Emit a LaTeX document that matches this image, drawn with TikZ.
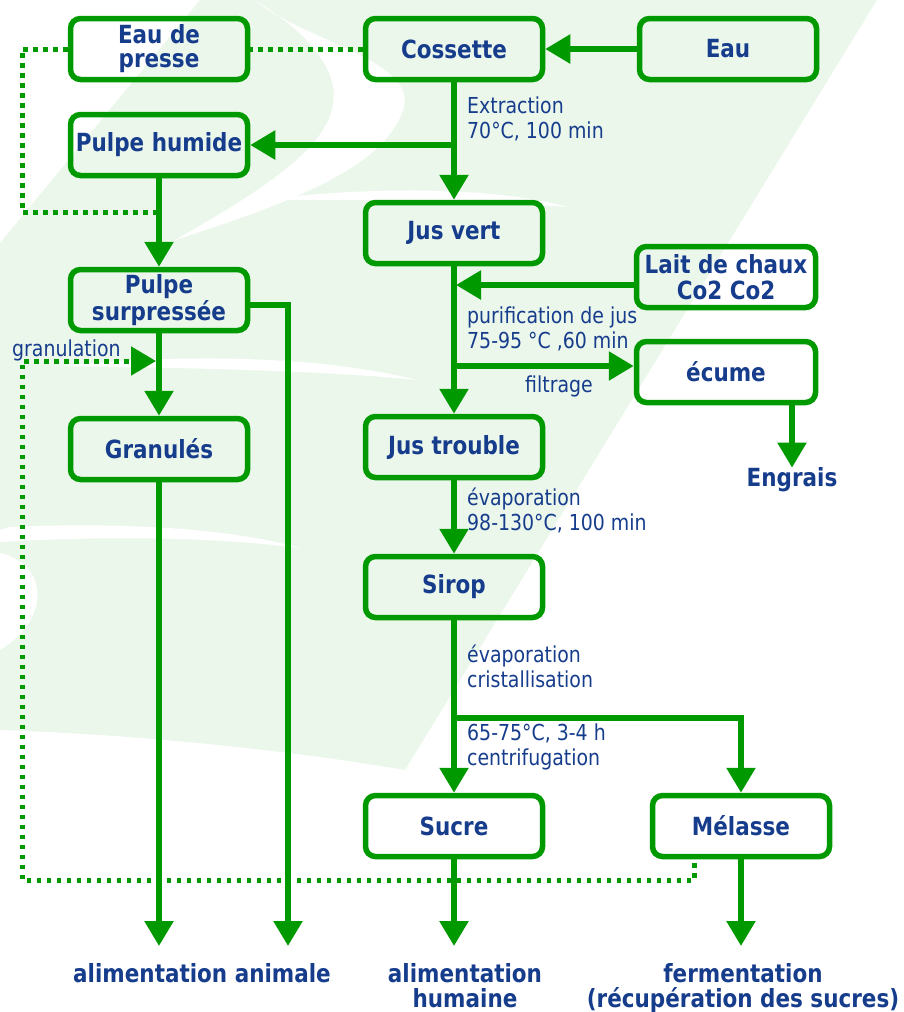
\documentclass[tikz,border=0pt]{standalone}
\usepackage{fontspec}
\setmainfont{DejaVu Sans}[FakeStretch=0.86]
\usetikzlibrary{arrows.meta,calc}
\definecolor{gr}{RGB}{0,153,0}
\definecolor{tb}{RGB}{22,60,140}
\definecolor{bg}{RGB}{236,247,236}
\begin{document}
\begin{tikzpicture}[x=1pt,y=-1pt,
  box/.style={draw=gr,line width=5.5pt,rounded corners=10pt,minimum width=177pt,minimum height=61pt,align=center,text=tb,font=\bfseries\fontsize{25}{24}\selectfont,inner sep=0pt},
  lab/.style={text=tb,font=\fontsize{22}{25}\selectfont,align=left,anchor=west,inner sep=0pt},
  outtext/.style={text=tb,font=\bfseries\fontsize{25}{25}\selectfont,align=center,inner sep=0pt},
  arr/.style={draw=gr,line width=5.5pt,-{Triangle[length=25pt,width=28pt]}},
  dotline/.style={draw=gr,line width=5pt,dash pattern=on 4.5pt off 5.5pt},
]
\useasboundingbox (0,0) rectangle (903,1012);
% background swoosh
\fill[bg] (200,0) -- (877,0) -- (405,770) .. controls (300,752) and (150,735) .. (0,730) -- (0,243) -- cycle;
\fill[white] (255,0) .. controls (300,40) and (420,60) .. (403,110) .. controls (385,165) and (300,200) .. (175,240) .. controls (290,175) and (350,130) .. (330,75) .. controls (315,40) and (285,20) .. cycle;
\fill[white] (260,200) .. controls (380,185) and (500,188) .. (567,207) .. controls (480,200) and (380,200) .. cycle;
\fill[white] (60,366) .. controls (200,352) and (330,358) .. (417,380) .. controls (330,371) and (200,368) .. cycle;
\fill[white] (10,527) .. controls (120,522) and (230,528) .. (300,548) .. controls (220,538) and (120,535) .. (0,542) -- (0,530) -- cycle;
\fill[white] (0,553) .. controls (50,565) and (50,620) .. (0,650) -- cycle;

% boxes
\node[box] (eaup) at (159,49) {Eau de\\presse};
\node[box] (coss) at (454,49) {Cossette};
\node[box] (eau) at (728,49) {Eau};
\node[box] (pulph) at (159,145) {Pulpe humide};
\node[box] (jusv) at (454,233) {Jus vert};
\node[box,minimum width=179pt,font=\bfseries\fontsize{25}{26}\selectfont] (lait) at (726,277) {Lait de chaux\\Co2 Co2};
\node[box,font=\bfseries\fontsize{25}{27}\selectfont] (pulps) at (159,300) {Pulpe\\surpressée};
\node[box,minimum width=179pt] (ecume) at (726,372) {écume};
\node[box] (gran) at (159,449) {Granulés};
\node[box] (jtr) at (454,447) {Jus trouble};
\node[box] (sirop) at (454,587) {Sirop};
\node[box] (sucre) at (454,826) {Sucre};
\node[box] (mel) at (741,826) {Mélasse};

% outputs
\node[outtext] (engr) at (792,480) {Engrais};
\node[outtext] (o1) at (202,973) {alimentation animale};
\node[outtext,anchor=north] (o2) at (465,963) {alimentation\\humaine};
\node[outtext,anchor=north] (o3) at (743,963) {fermentation\\(récupération des sucres)};

% labels
\node[lab] (l1) at (467,119) {Extraction\\70°C, 100 min};
\node[lab] (l2) at (467,329) {purification de jus\\75-95 °C ,60 min};
\node[lab] (l3) at (525,386) {filtrage};
\node[lab] (l4) at (467,510) {évaporation\\98-130°C, 100 min};
\node[lab] (l5) at (467,666) {évaporation\\cristallisation};
\node[lab] (l6) at (467,747) {65-75°C, 3-4 h\\centrifugation};
\node[lab] (l7) at (12,350) {granulation};

% coordinates
\coordinate (t1) at (159,946);
\coordinate (t2) at (288,946);
\coordinate (t3) at (454,946);
\coordinate (t4) at (741,946);
\coordinate (d1) at (22,212);
\coordinate (lj) at (456,285);
\coordinate (ej) at (454,366);
\coordinate (sb) at (454,718);
\coordinate (m1) at (694,863);
\coordinate (g1) at (22,880);
\coordinate (gt) at (156,361);

% connectors
\draw[arr] (eau) -- (coss);
\draw[arr] (coss) -- (jusv);
\draw[arr] (coss.south |- pulph) -- (pulph);
\draw[arr] (pulph) -- (pulps);
\draw[dotline] (coss) -- (eaup);
\draw[dotline] (eaup.west) -| (d1) -- (pulph.south |- d1);
\draw[arr] (jusv) -- (jtr);
\draw[arr] (lait.west |- lj) -- (lj);
\draw[arr] (ej) -- (ecume.west |- ej);
\draw[arr] (engr.north |- ecume.south) -- (engr);
\draw[arr] (jtr) -- (sirop);
\draw[arr] (sirop) -- (sucre);
\draw[arr] (sb) -| (mel);
\draw[arr] (pulps) -- (gran);
\draw[arr] ($(pulps.east)+(0,5)$) -| (t2);
\draw[arr] (gran) -- (t1);
\draw[arr] (sucre) -- (t3);
\draw[arr] (mel) -- (t4);
\draw[dotline,-{Triangle[length=25pt,width=28pt]}] (m1) |- (g1) |- (gt);
\end{tikzpicture}
\end{document}
